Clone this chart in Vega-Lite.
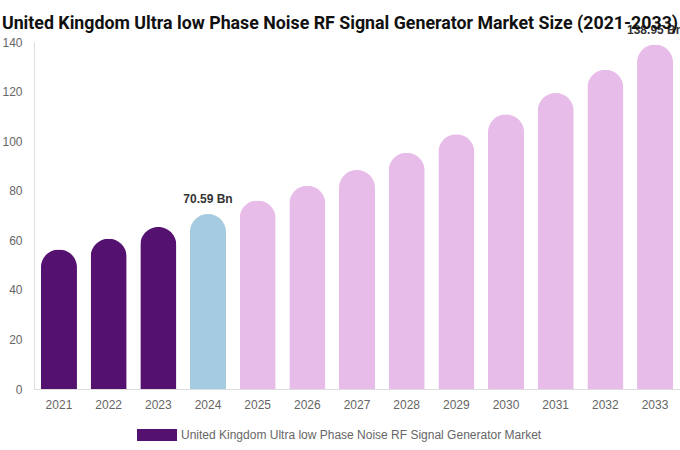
{
  "$schema": "https://vega.github.io/schema/vega-lite/v6.json",
  "width": 646,
  "height": 347,
  "autosize": {"type": "none"},
  "padding": {"left": 34, "top": 42, "right": 0, "bottom": 61},
  "background": "white",
  "title": {
    "text": "United Kingdom Ultra low Phase Noise RF Signal Generator Market Size (2021-2033)",
    "font": "Roboto",
    "fontSize": 17.8,
    "fontWeight": "bold",
    "color": "#111111",
    "anchor": "middle",
    "dx": -17,
    "offset": -9
  },
  "data": {
    "values": [
      {"year": "2021", "value": 56.3, "cat": "United Kingdom Ultra low Phase Noise RF Signal Generator Market", "label": ""},
      {"year": "2022", "value": 60.6, "cat": "United Kingdom Ultra low Phase Noise RF Signal Generator Market", "label": ""},
      {"year": "2023", "value": 65.4, "cat": "United Kingdom Ultra low Phase Noise RF Signal Generator Market", "label": ""},
      {"year": "2024", "value": 70.59, "cat": "base", "label": "70.59 Bn"},
      {"year": "2025", "value": 76.1, "cat": "forecast", "label": ""},
      {"year": "2026", "value": 82.0, "cat": "forecast", "label": ""},
      {"year": "2027", "value": 88.4, "cat": "forecast", "label": ""},
      {"year": "2028", "value": 95.3, "cat": "forecast", "label": ""},
      {"year": "2029", "value": 102.8, "cat": "forecast", "label": ""},
      {"year": "2030", "value": 110.8, "cat": "forecast", "label": ""},
      {"year": "2031", "value": 119.4, "cat": "forecast", "label": ""},
      {"year": "2032", "value": 128.8, "cat": "forecast", "label": ""},
      {"year": "2033", "value": 138.95, "cat": "forecast", "label": "138.95 Bn"}
    ]
  },
  "encoding": {
    "x": {
      "field": "year",
      "type": "ordinal",
      "scale": {"paddingInner": 0.275, "paddingOuter": 0.14},
      "axis": {
        "title": null,
        "labelAngle": 0,
        "labelFont": "Liberation Sans",
        "labelFontSize": 12,
        "labelColor": "#666666",
        "labelPadding": 10,
        "ticks": false,
        "domainColor": "#dddddd",
        "grid": false
      }
    },
    "y": {
      "field": "value",
      "type": "quantitative",
      "scale": {"domain": [0, 140], "nice": false},
      "axis": {
        "title": null,
        "values": [0, 20, 40, 60, 80, 100, 120, 140],
        "labelFont": "Liberation Sans",
        "labelFontSize": 12,
        "labelColor": "#666666",
        "labelPadding": 12,
        "ticks": false,
        "domainColor": "#dddddd",
        "grid": false
      }
    }
  },
  "layer": [
    {
      "mark": {"type": "bar", "cornerRadiusEnd": 18},
      "encoding": {
        "color": {
          "field": "cat",
          "type": "nominal",
          "scale": {
            "domain": ["United Kingdom Ultra low Phase Noise RF Signal Generator Market", "base", "forecast"],
            "range": ["#541170", "#a4cbdf", "#e7bce8"]
          },
          "legend": {
            "values": ["United Kingdom Ultra low Phase Noise RF Signal Generator Market"],
            "title": null,
            "orient": "none",
            "legendX": 103,
            "legendY": 373,
            "direction": "horizontal",
            "symbolType": "M-1,-0.3H1V0.3H-1Z",
            "symbolSize": 1600,
            "symbolStrokeWidth": 0,
            "symbolOpacity": 1,
            "labelFont": "Liberation Sans",
            "labelFontSize": 12,
            "labelColor": "#666666",
            "labelLimit": 600
          }
        }
      }
    },
    {
      "mark": {"type": "text", "dy": -8, "baseline": "bottom", "font": "Liberation Sans", "fontSize": 12, "fontWeight": "bold", "color": "#333333"},
      "encoding": {
        "text": {"field": "label"}
      }
    }
  ],
  "config": {"view": {"stroke": null}}
}
